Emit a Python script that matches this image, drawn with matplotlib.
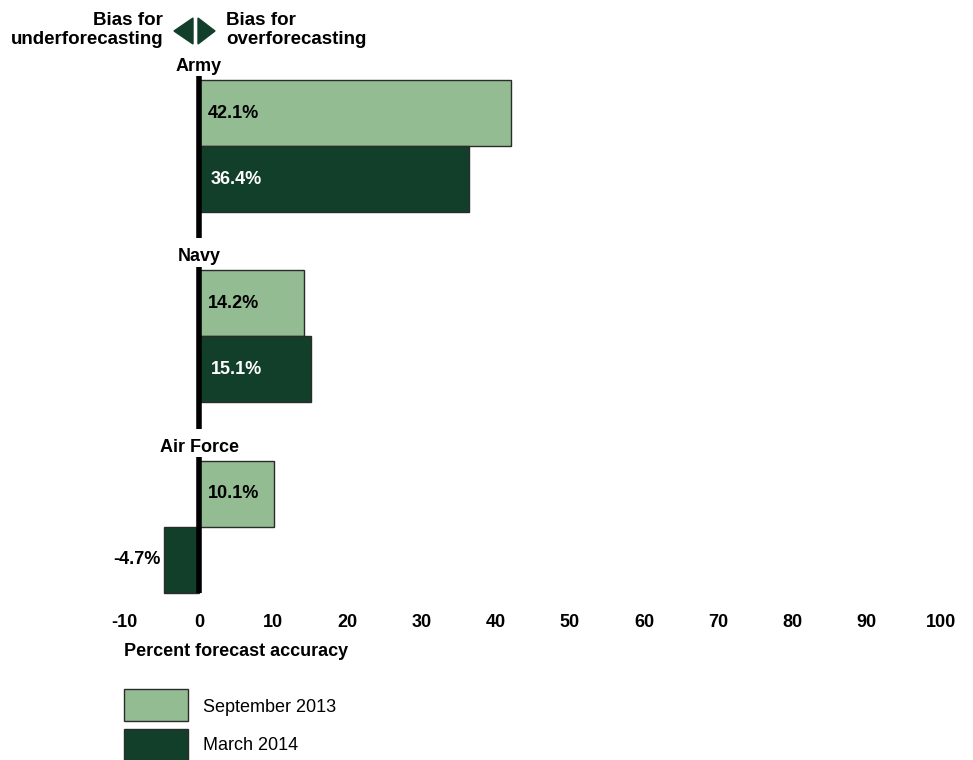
import matplotlib
matplotlib.use("Agg")
import matplotlib.pyplot as plt
from matplotlib.patches import Polygon, Rectangle

plt.rcParams['font.family'] = ['Liberation Sans', 'DejaVu Sans']

categories = ["Army", "Navy", "Air Force"]
sep2013 = [42.1, 14.2, 10.1]
mar2014 = [36.4, 15.1, -4.7]
series_names = ["September 2013", "March 2014"]
xticks = list(range(-10, 101, 10))

LIGHT = "#93bc92"
DARK = "#123f2a"

W, H = 973, 760
fig = plt.figure(figsize=(W / 100, H / 100), dpi=100)

def fx(px):
    return px / W

def fy(py):
    return 1 - py / H

# axes: data x -12..103 maps to px 110..963 ; y px 60..600
ax_left, ax_right = 110, 963
ax_top, ax_bot = 60, 600
ax = fig.add_axes([fx(ax_left), fy(ax_bot), (ax_right - ax_left) / W, (ax_bot - ax_top) / H])
ax.set_xlim(-12, 103)
unit = 190.5
ax.set_ylim((ax_bot - 80) / unit, (ax_top - 80) / unit)

h = 66 / unit
for i, cat in enumerate(categories):
    y_sep = i + h / 2
    y_mar = i + 1.5 * h
    ax.barh(y_sep, sep2013[i], height=h, color=LIGHT, edgecolor="#2b2b2b", linewidth=1, zorder=2)
    ax.barh(y_mar, mar2014[i], height=h, color=DARK, edgecolor="#2b2b2b", linewidth=1, zorder=2)
    # value labels
    ax.text(1.2, y_sep, f"{sep2013[i]:.1f}%", ha="left", va="center", fontsize=13,
            fontweight="bold", color="black", zorder=4)
    if mar2014[i] >= 0:
        ax.text(1.6, y_mar, f"{mar2014[i]:.1f}%", ha="left", va="center", fontsize=13,
                fontweight="bold", color="white", zorder=4)
    else:
        ax.text(mar2014[i] - 0.5, y_mar, f"{mar2014[i]:.1f}%", ha="right", va="center",
                fontsize=13, fontweight="bold", color="black", zorder=4)
    # zero line
    top = i - 0.02
    bottom = i + (0.83 if i < len(categories) - 1 else 2 * h)
    ax.plot([0, 0], [top, bottom], color="black", linewidth=4, solid_capstyle="butt", zorder=3)
    # group label
    ax.text(0, i - 0.072, cat, ha="center", va="center", fontsize=13, fontweight="bold")

ax.set_xticks(xticks)
ax.set_xticklabels([str(t) for t in xticks], fontsize=13, fontweight="bold")
ax.tick_params(axis="x", length=0, pad=10)
ax.set_yticks([])
for s in ax.spines.values():
    s.set_visible(False)
ax.patch.set_visible(False)

fig.text(fx(124), fy(652), "Percent forecast accuracy", ha="left", va="center",
         fontsize=13, fontweight="bold")

# header
fig.text(fx(163), fy(30), "Bias for\nunderforecasting", ha="right", va="center",
         fontsize=13.5, fontweight="bold", linespacing=1.1)
fig.text(fx(226), fy(30), "Bias for\noverforecasting", ha="left", va="center",
         fontsize=13.5, fontweight="bold", linespacing=1.1)
fig.add_artist(Polygon([(fx(193), fy(18)), (fx(193), fy(44)), (fx(174), fy(31))],
                       closed=True, transform=fig.transFigure, color=DARK))
fig.add_artist(Polygon([(fx(198), fy(18)), (fx(198), fy(44)), (fx(215), fy(31))],
                       closed=True, transform=fig.transFigure, color=DARK))

# legend
for (y0, y1), col, name, ty in [((689, 721), LIGHT, series_names[0], 707),
                                 ((729, 762), DARK, series_names[1], 745)]:
    fig.add_artist(Rectangle((fx(124), fy(y1)), (188 - 124) / W, (y1 - y0) / H,
                             transform=fig.transFigure, facecolor=col,
                             edgecolor="#2b2b2b", linewidth=1))
    fig.text(fx(203), fy(ty), name, ha="left", va="center", fontsize=13)

fig.savefig("out.png", dpi=100)
